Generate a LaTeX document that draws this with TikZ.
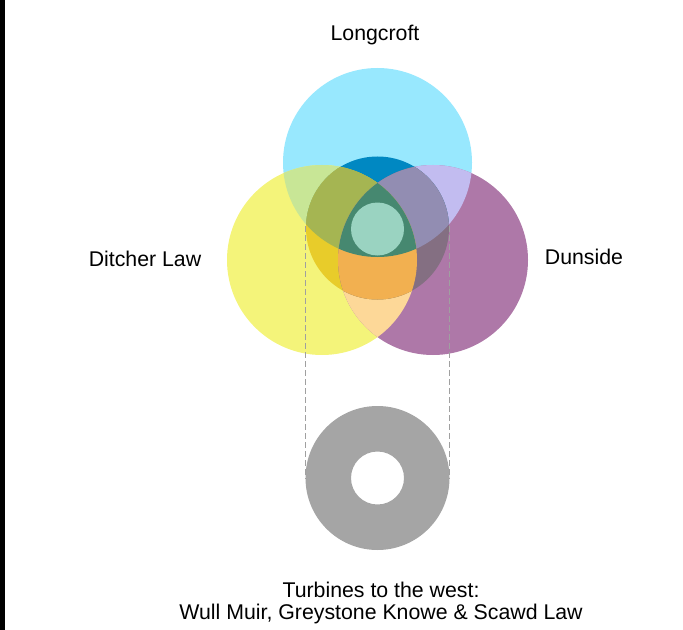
\documentclass[tikz,border=0pt]{standalone}
\usepackage{fontspec}
\setmainfont{Liberation Sans}
\definecolor{cC}{HTML}{98E8FE}
\definecolor{cY}{HTML}{F4F47A}
\definecolor{cP}{HTML}{AE78A8}
\definecolor{cCY}{HTML}{C8E696}
\definecolor{cCP}{HTML}{C2BCF0}
\definecolor{cYP}{HTML}{FDD898}
\definecolor{mC}{HTML}{0088C2}
\definecolor{mY}{HTML}{E8CC2A}
\definecolor{mP}{HTML}{846F82}
\definecolor{mCY}{HTML}{A5B552}
\definecolor{mCP}{HTML}{928DB2}
\definecolor{mYP}{HTML}{F2B050}
\definecolor{mCYP}{HTML}{468870}
\definecolor{innerc}{HTML}{9AD3C1}
\definecolor{ringc}{HTML}{A5A5A5}
\definecolor{dashc}{HTML}{A0A0A0}
\tikzset{
  lbl/.style={inner sep=0pt, anchor=base, font=\fontsize{21.3bp}{22bp}\selectfont},
  dashline/.style={draw=dashc, line width=0.8bp, dash pattern=on 6bp off 3bp}
}
\begin{document}
\begin{tikzpicture}[x=1bp,y=-1bp]
\useasboundingbox (0,0) rectangle (683,630);
\fill[black] (0,0) rectangle (5,630);
\def\cirC{(377.5,162.5) circle (94.5)}
\def\cirY{(322,260) circle (95)}
\def\cirP{(433,260) circle (95)}
\def\cirM{(377.5,228) circle (71.5)}
\def\cirI{(377.5,229) circle (26.5)}
% base circles
\fill[cC] \cirC;
\fill[cY] \cirY;
\fill[cP] \cirP;
\begin{scope}
  \clip \cirC;
  \fill[cCY] \cirY;
  \fill[cCP] \cirP;
\end{scope}
\begin{scope}
  \clip \cirY;
  \fill[cYP] \cirP;
\end{scope}
% middle circle overlay
\begin{scope}
  \clip \cirM;
  \fill[mC] \cirC;
  \fill[mY] \cirY;
  \fill[mP] \cirP;
  \begin{scope}
    \clip \cirC;
    \fill[mCY] \cirY;
    \fill[mCP] \cirP;
  \end{scope}
  \begin{scope}
    \clip \cirY;
    \fill[mYP] \cirP;
    \begin{scope}
      \clip \cirC;
      \fill[mCYP] \cirP;
    \end{scope}
  \end{scope}
\end{scope}
\fill[innerc] \cirI;
% ring
\fill[ringc, even odd rule] (377.5,478) circle (72) (377.5,478) circle (26.5);
% projection lines
\coordinate (ml) at (305.5,226);
\coordinate (mr) at (449.5,226);
\coordinate (dl) at (305.5,479);
\coordinate (dr) at (449.5,479);
\draw[dashline] (ml) -- (dl);
\draw[dashline] (mr) -- (dr);
% labels
\node[lbl] (longcroft) at (375,41) {Longcroft};
\node[lbl] (ditcher) at (145,266.5) {Ditcher Law};
\node[lbl] (dunside) at (584,264) {Dunside};
\node[lbl] (west1) at (381,597) {Turbines to the west:};
\node[lbl] (west2) at (381,619) {Wull Muir, Greystone Knowe \& Scawd Law};
\end{tikzpicture}
\end{document}
